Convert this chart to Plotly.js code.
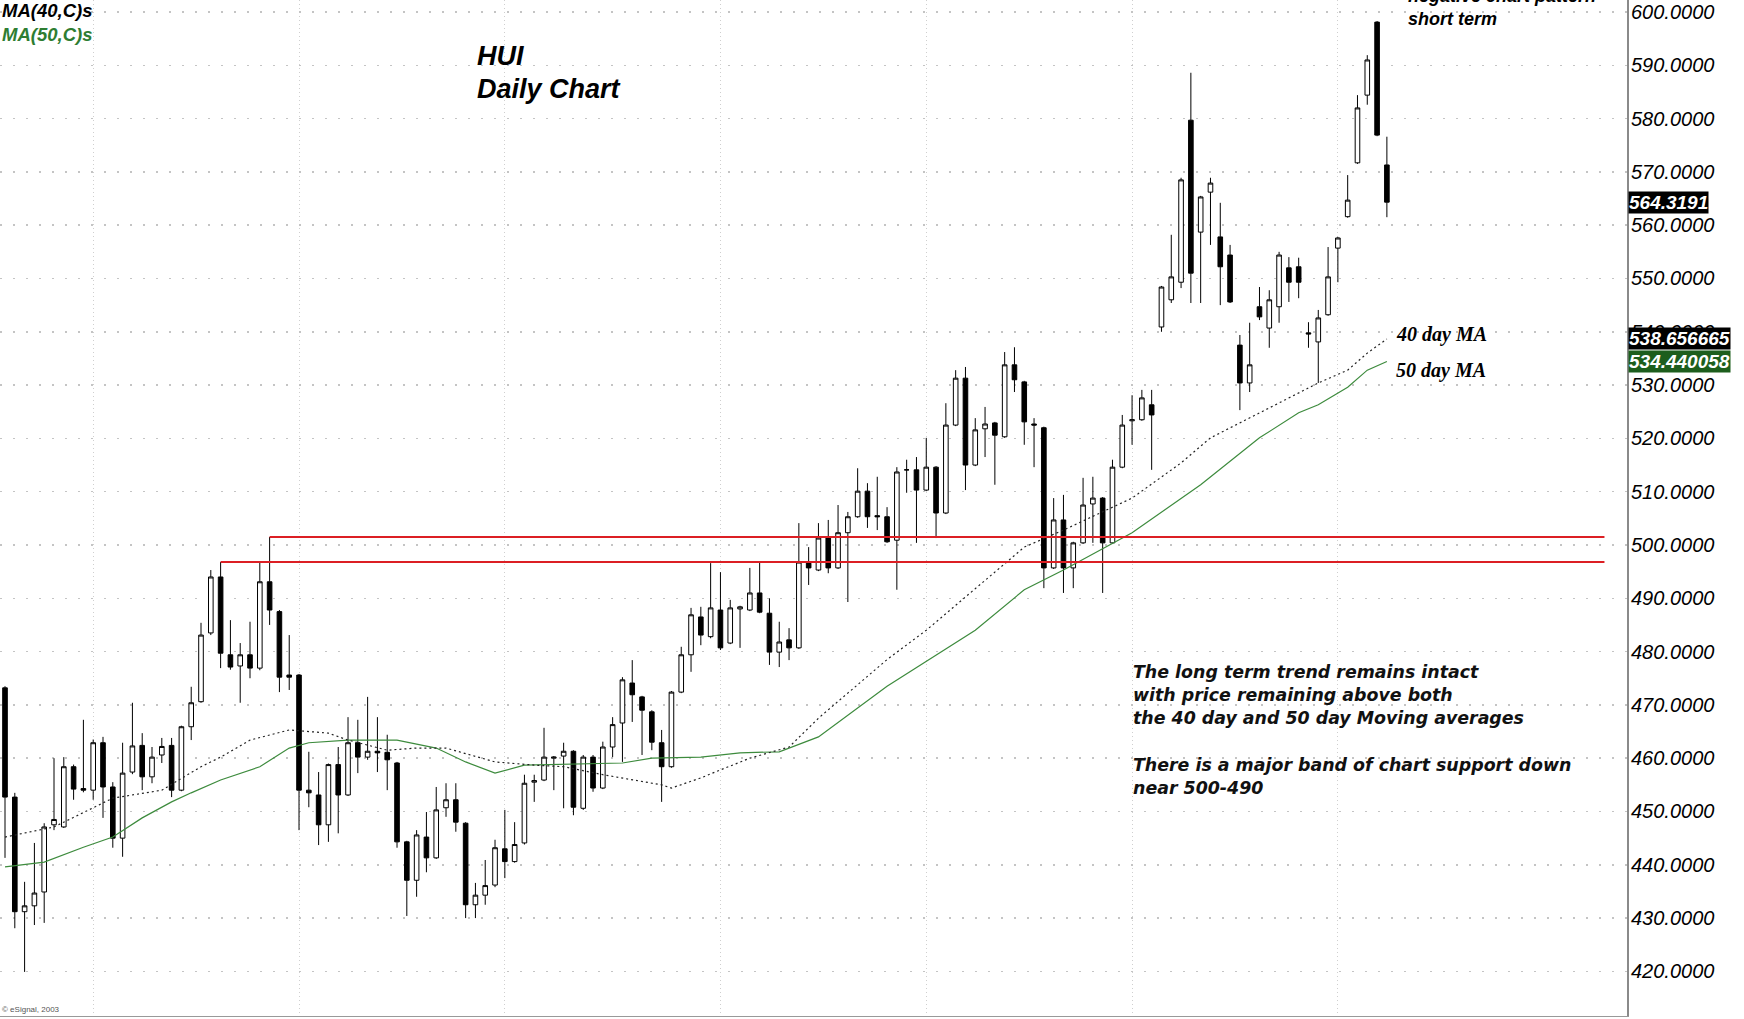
<!DOCTYPE html>
<html><head><meta charset="utf-8">
<script src="https://cdn.plot.ly/plotly-3.0.1.min.js"></script>
<style>html,body{margin:0;padding:0;background:#fff;overflow:hidden}#chart{width:1744px;height:1019px}</style>
</head><body><div id="chart"></div>
<script>
// Daily OHLC (one entry per trading day, left to right)
const open = [473.2,452.7,431.2,432.3,434.9,447.5,447.1,458.4,454.3,454.0,462.9,454.6,445.0,457.4,462.4,456.5,460.6,462.4,454.0,465.9,
470.6,483.5,494.0,479.4,477.3,479.4,476.9,493.1,487.5,475.6,475.6,454.0,453.1,447.5,458.8,453.1,462.9,460.2,461.3,461.1,
459.1,444.3,437.1,445.2,441.3,450.7,452.2,447.8,432.5,434.3,436.2,443.0,440.6,444.1,455.5,455.9,460.0,460.4,461.3,450.6,
460.2,454.4,462.1,466.6,474.1,471.5,468.7,462.9,458.4,472.4,479.4,486.5,482.8,487.8,481.6,488.0,487.8,491.0,487.2,479.9,
482.2,480.7,496.6,495.3,501.5,495.7,502.3,505.3,510.1,505.5,505.3,500.9,514.1,514.1,510.3,514.6,506.0,522.5,531.3,515.0,
521.8,522.9,520.3,533.8,530.6,522.7,522.0,495.7,504.7,495.7,500.4,507.7,508.8,500.4,514.6,523.3,523.5,526.3,540.9,546.0,
549.3,579.7,558.7,566.2,557.8,554.4,537.5,530.4,544.7,540.7,544.7,552.0,552.2,539.8,538.1,543.2,555.7,561.6,571.7,584.4,
598.1,571.3];
const high = [473.5,453.5,436.8,444.1,447.8,460.0,460.2,458.8,467.2,463.5,464.0,455.5,462.9,470.4,464.7,462.1,463.8,463.8,466.1,473.4,
485.4,495.3,496.8,485.9,481.6,485.6,496.8,501.5,487.8,483.1,475.8,461.2,457.4,459.0,462.1,467.7,467.2,471.5,467.7,464.4,
459.3,444.5,446.5,449.9,454.6,455.3,455.3,448.0,436.6,440.9,444.7,450.3,448.0,456.9,456.9,465.7,460.4,462.9,461.5,460.6,
460.6,463.1,467.7,475.2,478.4,471.7,469.0,465.3,472.6,480.9,488.2,488.4,496.6,494.9,489.7,488.6,495.7,496.8,490.0,485.6,
484.4,504.1,499.6,504.1,504.7,507.5,506.2,514.4,511.6,512.8,507.1,514.6,516.0,516.5,520.1,514.8,526.6,532.8,533.4,523.8,
525.9,523.1,536.2,537.1,530.8,523.8,522.2,508.8,509.4,500.6,512.6,512.8,509.0,516.0,524.4,528.1,529.1,529.1,548.6,558.2,
568.9,588.6,565.5,568.9,564.2,556.3,539.4,541.7,548.4,547.8,555.0,554.0,553.9,541.8,544.1,555.9,557.8,569.4,584.4,591.9,
598.3,576.6];
const low = [441.3,428.1,419.9,428.7,429.1,446.5,446.9,452.2,453.6,452.2,448.8,443.2,441.5,457.0,454.0,455.3,459.1,452.7,453.8,463.4,
470.4,483.1,476.9,476.6,470.4,475.0,476.5,485.0,472.4,472.8,446.5,450.8,443.7,444.3,445.9,452.9,457.2,459.7,457.4,454.0,
443.2,430.4,434.0,438.6,441.1,449.0,446.2,430.0,430.0,432.5,435.8,437.5,440.4,443.8,451.8,455.7,454.0,450.6,449.3,450.3,
453.7,454.2,460.2,459.3,466.8,460.6,461.5,451.8,458.2,472.2,476.2,481.2,482.5,480.3,481.4,480.7,487.6,487.2,477.5,477.1,
478.4,480.5,492.5,495.1,494.7,495.5,489.3,505.1,503.2,502.8,500.4,491.6,509.8,500.4,510.1,501.3,505.8,522.3,510.3,514.8,
516.5,511.3,520.1,528.7,518.8,514.6,491.9,495.5,491.0,491.9,500.2,500.4,491.0,500.2,514.4,518.8,523.3,514.1,540.0,545.4,
548.2,545.4,545.4,556.3,545.0,545.4,525.3,528.7,542.2,537.0,541.7,545.6,546.3,537.0,530.4,543.0,549.3,561.4,571.5,582.6,
576.7,561.5];
const close = [452.7,431.2,432.3,434.7,447.1,448.5,458.4,454.2,454.0,462.9,454.6,445.0,457.2,462.3,456.5,460.2,462.2,454.0,465.9,470.4,
483.1,494.0,479.7,477.1,479.4,476.9,493.1,487.8,475.2,475.2,454.0,453.5,447.5,458.8,453.1,462.9,460.2,461.3,461.0,459.7,
444.3,437.1,445.6,441.3,450.3,452.2,448.0,432.5,434.3,436.1,443.2,440.6,443.8,455.3,455.8,460.2,460.2,461.3,450.8,460.2,
454.4,462.1,466.3,474.7,471.9,469.0,463.0,458.4,472.4,479.4,486.9,483.1,488.2,480.7,488.2,488.4,491.0,487.4,479.9,481.8,
480.7,496.8,495.7,501.3,495.7,502.3,505.3,510.1,505.3,505.3,500.6,513.7,514.1,510.3,514.6,506.0,522.5,531.3,515.0,521.6,
522.7,520.6,533.8,531.0,523.1,522.5,495.7,504.7,495.7,500.4,507.5,508.8,500.4,514.6,522.5,523.5,527.6,524.4,548.4,550.3,
568.5,551.0,565.3,567.9,552.2,545.6,530.4,533.8,542.8,546.0,554.4,549.3,549.3,539.6,542.6,550.3,557.6,564.7,582.0,591.0,
576.9,564.3191];

// Moving averages read at sampled days
const ma40Day = [0,5,11,16,20,22,25,29,33,35,39,42,45,50,54,57,61,67,68,71,73,76,80,83,90,94,104,108,115,120,123,132,134,137,139,141];
const ma40 = [445.2,447.1,452.5,454.0,458.4,460.2,463.4,465.3,464.7,463.4,461.5,461.9,461.9,459.3,458.7,458.4,456.9,455.0,454.4,456.3,457.8,460.0,462.1,467.5,478.5,484.0,499.6,502.8,508.8,515.4,520.1,528.5,530.4,532.8,536.0,538.656665];
const ma50Day = [0,4,8,11,14,17,19,22,26,29,31,35,40,44,47,50,53,63,66,71,75,79,83,90,99,104,108,115,122,128,132,134,137,139,141];
const ma50 = [439.6,440.5,443.3,445.2,448.8,451.8,453.5,455.9,458.4,461.9,462.9,463.4,463.4,461.9,459.3,457.2,458.7,459.1,460.0,460.2,461.0,461.2,464.0,473.5,484.0,491.6,495.3,502.3,511.3,520.1,524.8,526.3,529.6,532.8,534.440058];

// Support band (horizontal red lines)
const supportLevel = [496.8, 501.5];
const supportFromDay = [22, 27];
const supportToDay = 163.2;

// Axis ticks
const priceTicks = [420,430,440,450,460,470,480,490,500,510,520,530,540,550,560,570,580,590,600];
const monthLines = [9,30,51,73,94,115,136];

// Highlighted last values
const lastLabels = ['564.3191','538.656665','534.440058'];
const lastValues = [564.3191, 538.656665, 534.440058];
const lastColors = ['#000000','#000000','#1d5e1d'];

const noteLines = ['The long term trend remains intact','with price remaining above both','the 40 day and 50 day Moving averages','There is a major band of chart support down','near 500-490'];
const noteY = [672,695,718,765,788];

const days = Array.from(open.keys());

const PW = 1627, PH = 1016;
const px = v => v / PW, py = v => 1 - v / PH;

const traces = [];
traces.push({type:'scatter', mode:'lines', x: ma50Day, y: ma50, line:{color:'#3d8b3d', width:1.2}, hoverinfo:'skip'});
traces.push({type:'scatter', mode:'lines', x: ma40Day, y: ma40, line:{color:'#222', width:1.2, dash:'2px,3px'}, hoverinfo:'skip'});
supportLevel.forEach((lv, k) => {
  traces.push({type:'scatter', mode:'lines', x:[supportFromDay[k], supportToDay], y:[lv, lv], line:{color:'#dc1f24', width:2}, hoverinfo:'skip'});
});
traces.push({type:'candlestick', x: days, open: open, high: high, low: low, close: close,
  increasing:{line:{color:'#000', width:1}, fillcolor:'#ffffff'},
  decreasing:{line:{color:'#000', width:1}, fillcolor:'#000000'},
  whiskerwidth:0, hoverinfo:'skip'});

const boldItalic = (size, color, family) => ({size:size, color:color||'#000', family: family||'Liberation Sans, Arial, sans-serif', style:'italic', weight:'bold'});

const ann = [];
ann.push({xref:'paper', yref:'paper', x:px(0), y:py(11), xanchor:'left', yanchor:'middle', text:'MA(40,C)s', showarrow:false, font:boldItalic(18.5,'#000')});
ann.push({xref:'paper', yref:'paper', x:px(0), y:py(34), xanchor:'left', yanchor:'middle', text:'MA(50,C)s', showarrow:false, font:boldItalic(18.5,'#2e7d32')});
ann.push({xref:'paper', yref:'paper', x:px(475), y:py(56), xanchor:'left', yanchor:'middle', text:'HUI', showarrow:false, font:boldItalic(27)});
ann.push({xref:'paper', yref:'paper', x:px(475), y:py(89), xanchor:'left', yanchor:'middle', text:'Daily Chart', showarrow:false, font:boldItalic(27)});
ann.push({xref:'paper', yref:'paper', x:px(1406), y:py(-4), xanchor:'left', yanchor:'middle', text:'negative chart pattern', showarrow:false, font:boldItalic(18)});
ann.push({xref:'paper', yref:'paper', x:px(1406), y:py(19), xanchor:'left', yanchor:'middle', text:'short term', showarrow:false, font:boldItalic(18)});
ann.push({xref:'paper', yref:'paper', x:px(1394), y:py(334), xanchor:'left', yanchor:'middle', text:'40 day MA', showarrow:false, font:boldItalic(20,'#000','Liberation Serif, Times New Roman, serif')});
ann.push({xref:'paper', yref:'paper', x:px(1394), y:py(370), xanchor:'left', yanchor:'middle', text:'50 day MA', showarrow:false, font:boldItalic(20,'#000','Liberation Serif, Times New Roman, serif')});
noteLines.forEach((t, k) => {
  ann.push({xref:'paper', yref:'paper', x:px(1131), y:py(noteY[k]), xanchor:'left', yanchor:'middle', text:t, showarrow:false,
    font:{family:'DejaVu Sans, Verdana, sans-serif', size:17.4, color:'#111', style:'italic', weight:'bold'}});
});
ann.push({xref:'paper', yref:'paper', x:px(0), y:py(1009), xanchor:'left', yanchor:'middle', text:'© eSignal, 2003', showarrow:false, font:{size:8, color:'#555', family:'Liberation Sans, Arial'}});
lastLabels.forEach((t, k) => {
  ann.push({xref:'paper', yref:'y', x:1, xshift:1, y:lastValues[k], xanchor:'left', yanchor:'middle', text:t, showarrow:false,
    bgcolor:lastColors[k], borderpad:0, font:{family:'Liberation Sans, Arial', size:19, color:'#fff', style:'italic', weight:'bold'}});
});

const layout = {
  width:1744, height:1019,
  margin:{l:0, r:1744-PW, t:0, b:1019-PH},
  paper_bgcolor:'#fff', plot_bgcolor:'#fff',
  showlegend:false,
  boxgap:0.33,
  xaxis:{type:'linear', range:[-0.51, 165.5], rangeslider:{visible:false}, tickvals:monthLines, showticklabels:false, ticks:'',
    showgrid:true, gridcolor:'#cfcfcf', griddash:'1px,3px', gridwidth:1, zeroline:false, showline:true, linecolor:'#999', linewidth:1},
  yaxis:{side:'right', range:[411.63, 602.25], tickvals:priceTicks, tickformat:'.4f', ticks:'', ticklabelstandoff:-2,
    tickfont:{family:'Liberation Sans, Arial', size:20, color:'#000', style:'italic'},
    showgrid:true, gridcolor:'#c4c4c4', griddash:'2px,11px', gridwidth:1.5, zeroline:false,
    showline:true, linecolor:'#8a8a8a', linewidth:2},
  annotations: ann
};

Plotly.newPlot('chart', traces, layout, {staticPlot:true, displayModeBar:false});
</script>
</body></html>
